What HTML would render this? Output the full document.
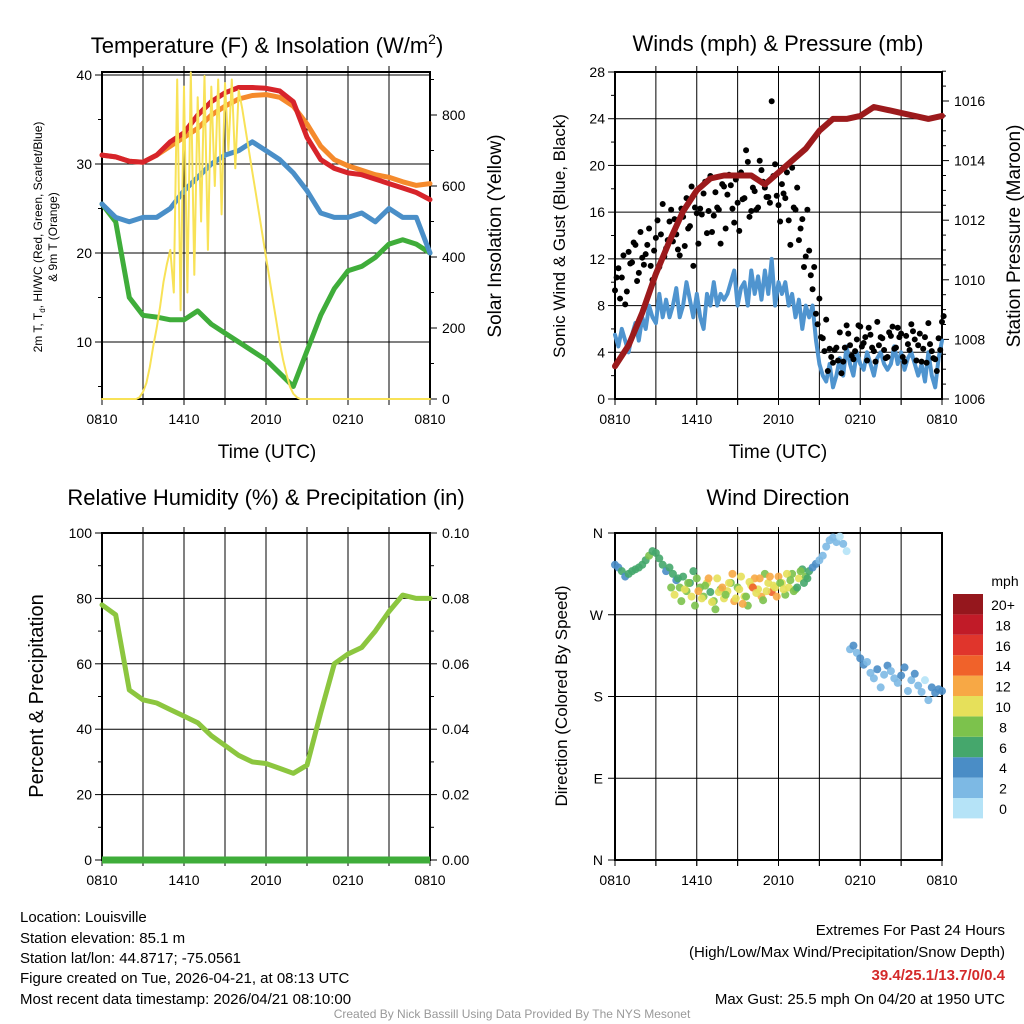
<!DOCTYPE html>
<html><head><meta charset="utf-8"><style>
html,body{margin:0;padding:0;background:#fff;}
svg{display:block;font-family:"Liberation Sans",Arial,sans-serif;}
</style></head><body>
<svg id="s" width="1024" height="1024" viewBox="0 0 1024 1024" xmlns="http://www.w3.org/2000/svg">
<g id="g"></g>
<text x="267" y="53" font-size="22" text-anchor="middle">Temperature (F) &amp; Insolation (W/m<tspan dy="-9" font-size="14">2</tspan><tspan dy="9">)</tspan></text>
<text x="778" y="51" font-size="22" text-anchor="middle">Winds (mph) &amp; Pressure (mb)</text>
<text x="266" y="505" font-size="22" text-anchor="middle">Relative Humidity (%) &amp; Precipitation (in)</text>
<text x="778" y="505" font-size="22" text-anchor="middle">Wind Direction</text>
<text x="267" y="458" font-size="19" text-anchor="middle">Time (UTC)</text>
<text x="778" y="458" font-size="19" text-anchor="middle">Time (UTC)</text>
<text transform="translate(42,237) rotate(-90)" font-size="12" text-anchor="middle">2m T, T<tspan dy="3" font-size="8">d</tspan><tspan dy="-3">, HI/WC (Red, Green, Scarlet/Blue)</tspan></text>
<text transform="translate(57,237) rotate(-90)" font-size="12" text-anchor="middle">&amp; 9m T (Orange)</text>
<text transform="translate(501,236) rotate(-90)" font-size="19" text-anchor="middle">Solar Insolation (Yellow)</text>
<text transform="translate(565,236) rotate(-90)" font-size="17" text-anchor="middle">Sonic Wind &amp; Gust (Blue, Black)</text>
<text transform="translate(1020,236) rotate(-90)" font-size="19" text-anchor="middle">Station Pressure (Maroon)</text>
<text transform="translate(43,696) rotate(-90)" font-size="20" text-anchor="middle">Percent &amp; Precipitation</text>
<text transform="translate(567,696) rotate(-90)" font-size="17" text-anchor="middle">Direction (Colored By Speed)</text>
<text x="1005" y="586" font-size="14" text-anchor="middle">mph</text>
<g font-size="15">
<text x="20" y="922">Location: Louisville</text>
<text x="20" y="943">Station elevation: 85.1 m</text>
<text x="20" y="963">Station lat/lon: 44.8717; -75.0561</text>
<text x="20" y="983">Figure created on Tue, 2026-04-21, at 08:13 UTC</text>
<text x="20" y="1004">Most recent data timestamp: 2026/04/21 08:10:00</text>
</g>
<g font-size="15" text-anchor="end">
<text x="1005" y="935">Extremes For Past 24 Hours</text>
<text x="1005" y="957">(High/Low/Max Wind/Precipitation/Snow Depth)</text>
<text x="1005" y="980" fill="#d42a2a" font-weight="bold">39.4/25.1/13.7/0/0.4</text>
<text x="1005" y="1004">Max Gust: 25.5 mph On 04/20 at 1950 UTC</text>
</g>
<text x="512" y="1018" font-size="12" fill="#999" text-anchor="middle">Created By Nick Bassill Using Data Provided By The NYS Mesonet</text>
</svg>
<script>
// ---- data ----
const timeLabels = ["0810","1410","2010","0210","0810"];
const tempRed = [31,30.8,30.3,30.2,31,32.5,33.5,35.5,37,38,38.6,38.6,38.5,38.2,37,33,30.5,29.5,29,28.8,28.3,27.8,27.3,26.8,26];
const tempOrange = [31,30.8,30.3,30.2,31,32,33,34,35.5,36.5,37.3,37.7,37.8,37.5,36.5,34.5,32,30.5,29.8,29.3,28.8,28.5,28,27.6,27.8];
const tempBlue = [25.5,24,23.5,24,24,25,27,28.5,30,31,31.5,32.5,31.5,30.5,29,27,24.5,24,24,24.5,23.5,25,24,24,20];
const tempGreen = [25.5,23.5,15,13,12.8,12.5,12.5,13.5,12,11,10,9,8,6.5,5,9,13,16,18,18.5,19.5,21,21.5,21,20];
const solar = [0,0,0,0,0,0,0,0,0,0,0,5,20,45,90,150,200,260,330,380,420,300,900,250,880,300,920,350,850,500,910,420,880,600,900,520,890,700,900,650,870,820,760,700,640,580,520,460,400,340,280,220,160,110,70,35,15,5,0,0,0,0,0,0,0,0,0,0,0,0,0,0,0,0,0,0,0,0,0,0,0,0,0,0,0,0,0,0,0,0,0,0,0,0,0,0,0];
const windSpeed = [5.5,4.5,6,5,4,5.5,6.5,5,7, 6,8,7,6.5,9,7,8.5,7, 8,9.5,7,8,10,8.5,7,9, 7,6,9,8,10,8,9,8.5, 9,10,11,8,9.5,10,8,11, 9,10.5,8.5,11,9,12,8,10, 9,10,8,9,7,8.5,6,8, 7,8,5,3,2,1.5,3,1, 2,3.5,2,4.5,3,2,4,3, 2.5,4,3,2,3.5,4,3,2.5, 3,4.5,3,4,2.5,3.5,4,3, 2,3,1.5,4,2,1,3.5,5];
const gustA = [9.3,11.2,10.4,8.1,12.6,11.7,13.2,10.8,12.1, 12.4,14.6,10.2,13.8,11.3,16.7,12.9,15.2, 13.5,14.1,12.3,15.6,17.2,14.8,11.4,15.9, 16.3,17.6,14.2,19.1,15.7,16.4,13.3,18.2, 17.5,18.3,15.1,16.8,19.4,17.2,20.3,16.1, 17.8,16.4,19.6,18.1,17.3,25.5,20.1,16.6, 18.4,17.2,15.3,19.8,16.2,13.6,15.4,12.2, 12.7,9.4,7.3,8.6,5.2,6.8,4.3,3.1, 4.4,5.7,3.2,6.3,4.6,3.4,5.1,6.2, 4.8,3.3,5.5,4.1,6.6,5.3,4.2,3.6, 5.4,4.3,6.1,5.6,3.2,4.7,6.4,5.1, 4.6,3.2,5.3,6.5,4.1,3.4,5.2,6.6];
const gustB = [10.4,8.6,12.3,9.2,11.6,13.4,10.1,14.3,11.5, 13.2,11.4,12.7,15.3,14.1,12.2,13.6,16.2, 15.4,12.8,16.3,13.1,14.6,18.2,16.4,13.3, 15.8,18.6,16.1,14.3,17.7,16.2,18.4,14.6, 19.2,16.3,18.8,14.4,17.1,21.3,15.6,18.1, 16.2,20.4,18.6,17.3,16.8,19.1,17.4,15.2, 17.6,19.4,13.2,16.4,18.1,14.6,11.3,16.2, 10.6,11.3,6.4,5.3,4.1,2.4,3.6,4.2, 3.3,2.2,4.4,5.6,3.7,4.1,6.3,4.5, 5.3,6.1,4.4,3.2,4.6,5.2,3.5,5.7, 6.2,4.4,5.3,3.6,5.4,4.2,5.8,3.3, 5.6,4.3,3.1,4.7,3.5,2.4,4.2,7.1];
const pressure = [1007.1,1007.8,1008.9,1010.2,1011.3,1012.3,1013,1013.4,1013.5,1013.5,1013.5,1013.2,1013.6,1014,1014.4,1015,1015.4,1015.4,1015.5,1015.8,1015.7,1015.6,1015.5,1015.4,1015.5];
const rh = [78,75,52,49,48,46,44,42,38,35,32,30,29.5,28,26.5,29,45,60,63,65,70,76,81,80,80];
const dirA = [325,322,318,312,315,318,320,322,325, 330,335,340,338,332,325,318,322, 315,308,300,312,296,305,318,310, 300,290,305,295,285,310,298,288, 296,305,285,300,312,290,280,302, 310,298,290,315,305,295,300,312, 305,292,300,315,298,310,320,312, 318,322,326,330,335,345,352,355, 350,356,348,340,232,236,228,222, 215,218,206,200,210,190,204,214, 208,200,195,203,212,186,198,205, 192,185,198,176,190,184,188,186];
const spdA = [4,5,6,5,6,7,6,7,6, 7,8,6,7,7,6,5,6, 6,5,8,7,9,6,7,8, 9,8,10,7,9,10,9,11, 10,9,12,8,10,11,9,10, 12,10,13,9,11,14,10,12, 11,9,10,8,9,10,7,8, 6,5,4,3,3,2,2,3, 2,1,2,1,3,4,3,4, 4,3,2,3,4,2,3,4, 3,2,3,4,4,2,3,4, 2,3,1,3,4,4,4,4];
const dirB = [300,292,310,285,298,305,290,280,296,288,302,310,284,276,295,300,292,305,315,288,298,282,290,306,300,294,310,286,296,312,302,290,305,298,315,308,296,300,318,305,310];
const spdB = [8,10,7,9,11,8,10,9,12,10,9,13,10,8,11,12,9,10,13,11,10,12,9,11,14,10,12,9,11,13,10,12,9,11,10,8,9,7,8,7,6];
const legendLabels = ["0","2","4","6","8","10","12","14","16","18","20+"];
const legendColors = ["#b5e3f7","#7db9e4","#4a8dc6","#45a76c","#7cc24c","#e6e05a","#f7a845","#f0622a","#e0352c","#c11b28","#95171d"];

// ---- drawing ----
const NS="http://www.w3.org/2000/svg";
const G=document.getElementById('g');
function el(tag,attrs,parent){const e=document.createElementNS(NS,tag);for(const k in attrs)e.setAttribute(k,attrs[k]);(parent||G).appendChild(e);return e;}
function panel(x0,y0,w,h){return {x0,y0,w,h,X:t=>x0+t/24*w};}
const P1=panel(102,72,328,327),P2=panel(615,72,327,327),P3=panel(102,533,328,327),P4=panel(615,533,327,327);
function lin(d0,d1,p0,p1){return v=>p0+(v-d0)/(d1-d0)*(p1-p0);}
const yT=lin(40,30,75,164), yS=lin(0,800,399,115), yW=lin(0,28,399,72), yP=lin(1006,1016,399,101);
const yR=lin(0,100,860,533), yQ=lin(0,0.1,860,533), yD=lin(0,360,860,533);

function frame(P,name){
  const g=el('g',{});
  
  
  for(let i=1;i<8;i++){const x=P.x0+i*P.w/8;el('line',{x1:x,x2:x,y1:P.y0-6,y2:P.y0+P.h+6,stroke:'#000','stroke-width':1},g);}
  for(let i=0;i<=8;i++){const x=P.x0+i*P.w/8;el('line',{x1:x,x2:x,y1:P.y0+P.h,y2:P.y0+P.h+6,stroke:'#000','stroke-width':1},g);}
  timeLabels.forEach((l,i)=>{const t=el('text',{x:P.x0+i*P.w/4,y:P.y0+P.h+25,'font-size':14,'text-anchor':'middle'},g);t.textContent=l;
    
    });
  return g;
}
function hgrid(P,y,g){el('line',{x1:P.x0,x2:P.x0+P.w,y1:y,y2:y,stroke:'#000','stroke-width':1},g);}
function box(P,g){el('rect',{x:P.x0,y:P.y0,width:P.w,height:P.h,fill:'none',stroke:'#000','stroke-width':2},g);}
function tickL(P,y,lab,g,minor){el('line',{x1:P.x0-(minor?4:7),x2:P.x0,y1:y,y2:y,stroke:'#000'},g);if(lab!==null){const t=el('text',{x:P.x0-10,y:y+5,'font-size':14,'text-anchor':'end'},g);t.textContent=lab;}}
function tickR(P,y,lab,g,minor){el('line',{x1:P.x0+P.w,x2:P.x0+P.w+(minor?4:7),y1:y,y2:y,stroke:'#000'},g);if(lab!==null){const t=el('text',{x:P.x0+P.w+12,y:y+5,'font-size':14},g);t.textContent=lab;}}
function path(pts,attrs,name){const p=el('path',Object.assign({d:'M'+pts.map(q=>q[0].toFixed(1)+','+q[1].toFixed(1)).join('L'),fill:'none','stroke-linejoin':'round','stroke-linecap':'round'},attrs));
  
  return p;}

// Panel 1
let g1=frame(P1,'temp');
[10,20,30,40].forEach(v=>hgrid(P1,yT(v),g1));
for(let v=5;v<=40;v+=5)tickL(P1,yT(v),v%10===0?String(v):null,g1,v%10!==0);
for(let v=0;v<=900;v+=100)tickR(P1,yS(v),v%200===0?String(v):null,g1,v%200!==0);
path(tempGreen.map((v,i)=>[P1.X(i),yT(v)]),{stroke:'#3fad3a','stroke-width':5},'dewpoint-line');
path(tempBlue.map((v,i)=>[P1.X(i),yT(v)]),{stroke:'#4a8fc8','stroke-width':5},'windchill-line');
path(tempOrange.map((v,i)=>[P1.X(i),yT(v)]),{stroke:'#f58a2c','stroke-width':5},'temp-9m-line');
path(tempRed.map((v,i)=>[P1.X(i),yT(v)]),{stroke:'#d7242a','stroke-width':5},'temp-2m-line');
path(solar.map((v,i)=>[P1.X(i/4),yS(v)]),{stroke:'#f8e257','stroke-width':2},'solar-line');
box(P1,g1);
el('line',{x1:P1.x0,x2:P1.x0+P1.w,y1:75,y2:75,stroke:'#000'},g1);

// Panel 2
let g2=frame(P2,'winds');
for(let v=0;v<=28;v+=4)hgrid(P2,yW(v),g2);
for(let v=0;v<=28;v+=2)tickL(P2,yW(v),v%4===0?String(v):null,g2,v%4!==0);
for(let v=1006;v<=1017;v+=0.5){const maj=Math.abs(v%2)<0.01;tickR(P2,yP(v),maj?String(v):null,g2,!maj);}
path(windSpeed.map((v,i)=>[P2.X(i/4),yW(v)]),{stroke:'#4f94cf','stroke-width':4},'wind-speed-line');
gustA.forEach((v,i)=>{const c=el('circle',{cx:P2.X(i/4),cy:yW(v),r:3,fill:'#000'});
  
  });
gustB.forEach((v,i)=>{const c=el('circle',{cx:P2.X(i/4+0.12),cy:yW(v),r:3,fill:'#000'});
  
  });
path(pressure.map((v,i)=>[P2.X(i),yP(v)]),{stroke:'#9c1a1c','stroke-width':6},'pressure-line');
box(P2,g2);

// Panel 3
let g3=frame(P3,'rh');
for(let v=0;v<=100;v+=20)hgrid(P3,yR(v),g3);
for(let v=0;v<=100;v+=10)tickL(P3,yR(v),v%20===0?String(v):null,g3,v%20!==0);
for(let v=0;v<=0.1001;v+=0.01){const maj=Math.round(v*100)%2===0;tickR(P3,yQ(v),maj?v.toFixed(2):null,g3,!maj);}
path(rh.map((v,i)=>[P3.X(i),yR(v)]),{stroke:'#8cc63f','stroke-width':5},'rh-line');
const precip=[0,0,0,0,0,0,0,0,0,0,0,0,0,0,0,0,0,0,0,0,0,0,0,0,0];
path(precip.map((v,i)=>[P3.X(i),yQ(v)]),{stroke:'#3fad3a','stroke-width':7,'stroke-linecap':'butt'},'precip-line');
box(P3,g3);

// Panel 4
let g4=frame(P4,'direction');
const dl=['N','E','S','W','N'];
[0,90,180,270,360].forEach((v,i)=>{hgrid(P4,yD(v),g4);el('line',{x1:P4.x0-7,x2:P4.x0,y1:yD(v),y2:yD(v),stroke:'#000'},g4);
  const t=el('text',{x:P4.x0-12,y:yD(v)+5,'font-size':14,'text-anchor':'end'},g4);t.textContent=dl[i];});
function sc(s){return legendColors[Math.min(10,Math.floor(s/2))];}
dirA.forEach((d,i)=>{const c=el('circle',{cx:P4.X(i/4),cy:yD(d),r:4,fill:sc(spdA[i]),'fill-opacity':0.9});
  
  });
dirB.forEach((d,i)=>{const c=el('circle',{cx:P4.X(4+i/4+0.12),cy:yD(d),r:4,fill:sc(spdB[i]),'fill-opacity':0.9});
  
  });
box(P4,g4);
// legend
legendLabels.forEach((l,i)=>{const y=798-i*20.4;
  const r=el('rect',{x:953,y:y,width:30,height:20.4,fill:legendColors[i]});
  
  
  const t=el('text',{x:1003,y:y+16,'font-size':14,'text-anchor':'middle'});t.textContent=l;
  
  });
</script>
</body></html>
